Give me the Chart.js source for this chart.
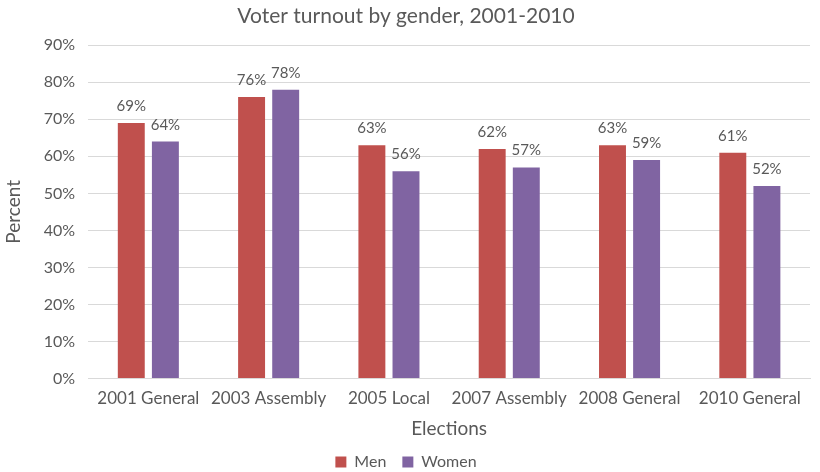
<!DOCTYPE html>
<html><head><meta charset="utf-8">
<script src="https://cdn.jsdelivr.net/npm/chart.js@4/dist/chart.umd.min.js"></script>
<style>html,body{margin:0;padding:0;background:#fff}#wrap{width:820px;height:472px}</style>
</head><body><div id="wrap"><canvas id="c" width="820" height="472"></canvas></div>
<script>
const categories = ["2001 General","2003 Assembly","2005 Local","2007 Assembly","2008 General","2010 General"];
const men = [69,76,63,62,63,61];
const women = [64,78,56,57,59,52];
const yTicks = [0,10,20,30,40,50,60,70,80,90];
const FONT = "Lato, 'Open Sans', sans-serif";
const GRAY = "#595959";

const labelPlugin = {
  id: 'barLabels',
  afterDatasetsDraw(chart) {
    const ctx = chart.ctx;
    ctx.save();
    ctx.font = "15px " + FONT;
    ctx.fillStyle = GRAY;
    ctx.textAlign = 'center';
    ctx.textBaseline = 'alphabetic';
    chart.data.datasets.forEach((ds, i) => {
      chart.getDatasetMeta(i).data.forEach((bar, j) => {
        ctx.fillText(ds.data[j] + '%', bar.x, bar.y - 12);
      });
    });
    ctx.restore();
  }
};

new Chart(document.getElementById('c'), {
  type: 'bar',
  data: {
    labels: categories,
    datasets: [
      {label: 'Men', data: men, backgroundColor: '#C0504D', categoryPercentage: 0.567, barPercentage: 0.79},
      {label: 'Women', data: women, backgroundColor: '#8064A2', categoryPercentage: 0.567, barPercentage: 0.79}
    ]
  },
  options: {
    responsive: false,
    animation: false,
    layout: {padding: {left: 2, right: 10, top: 4, bottom: -8}},
    plugins: {
      title: {display: true, text: 'Voter turnout by gender, 2001-2010', color: GRAY,
        font: {family: FONT, size: 21, weight: 'normal'}, padding: {top: 0, bottom: 16}},
      legend: {position: 'bottom', labels: {color: GRAY, font: {family: FONT, size: 16},
        boxWidth: 11, boxHeight: 11, padding: 16}},
      tooltip: {enabled: false}
    },
    scales: {
      x: {
        grid: {display: false, drawTicks: false},
        border: {color: '#D9D9D9', width: 1},
        ticks: {color: GRAY, font: {family: FONT, size: 17}, padding: 10, maxRotation: 0, minRotation: 0, autoSkip: false},
        title: {display: true, text: 'Elections', color: GRAY, font: {family: FONT, size: 19, lineHeight: 1.0}, padding: {top: 0, bottom: 0}}
      },
      y: {
        min: 0, max: 90,
        afterBuildTicks(scale) { scale.ticks = yTicks.map(v => ({value: v})); },
        grid: {color: '#D9D9D9', drawTicks: false},
        border: {display: false},
        ticks: {color: GRAY, font: {family: FONT, size: 16}, padding: 13, callback: v => v + '%'},
        title: {display: true, text: 'Percent', color: GRAY, font: {family: FONT, size: 19}, padding: {top: 0, bottom: 6}}
      }
    }
  },
  plugins: [labelPlugin]
});
</script></body></html>
